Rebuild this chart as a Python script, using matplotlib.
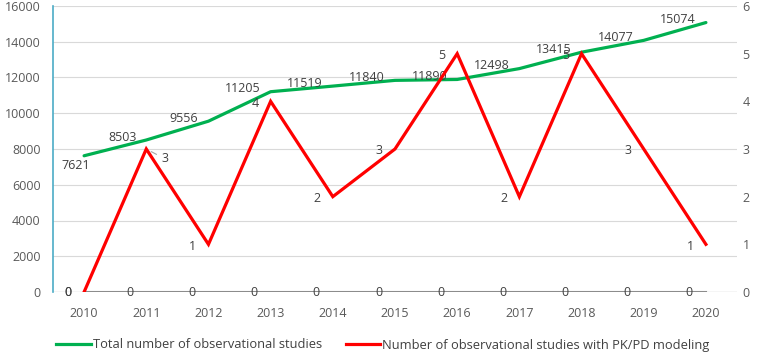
import matplotlib
matplotlib.use("Agg")
import matplotlib.pyplot as plt
from matplotlib.lines import Line2D

plt.rcParams['font.family'] = ['Open Sans', 'DejaVu Sans']

years = ['2010', '2011', '2012', '2013', '2014', '2015', '2016', '2017', '2018', '2019', '2020']
total_studies = [7621, 8503, 9556, 11205, 11519, 11840, 11890, 12498, 13415, 14077, 15074]
pkpd_studies = [0, 3, 1, 4, 2, 3, 5, 2, 5, 3, 1]
zero_series = [0, 0, 0, 0, 0, 0, 0, 0, 0, 0, 0]

GREEN = '#00b050'
RED = '#ff0000'
TXT = '#404040'
TICK = '#595959'

fig = plt.figure(figsize=(7.61, 3.54), dpi=100)
ax = fig.add_axes([53 / 761, 1 - 292 / 354, (737 - 53) / 761, (292 - 6) / 354])
ax2 = ax.twinx()

x = list(range(len(years)))

# left axis: total studies
ax.plot(x, total_studies, color=GREEN, lw=2.3, solid_capstyle='round', zorder=3)
ax.set_xlim(-0.5, len(years) - 0.5)
ax.set_ylim(0, 16000)
ax.set_yticks(range(0, 16001, 2000))
ax.set_xticks(x)
ax.set_xticklabels(years)
ax.grid(axis='y', color='#d9d9d9', lw=0.8)
ax.set_axisbelow(True)
ax.tick_params(axis='y', length=0, pad=9, labelsize=9, labelcolor=TICK)
ax.tick_params(axis='x', length=0, pad=11, labelsize=9, labelcolor=TICK)
for s in ['top', 'right', 'bottom']:
    ax.spines[s].set_visible(False)
ax.spines['left'].set_color('#4bacc6')
ax.spines['left'].set_linewidth(1.2)
ax.axhline(0, color='#d9d9d9', lw=1, zorder=1)

for i, v in enumerate(total_studies):
    if i == 0:
        off = (6, -10)
    else:
        off = (-10, 3)
    ax.annotate(str(v), (i, v), textcoords='offset pixels', xytext=off,
                ha='right', va='center', fontsize=9, color=TXT, zorder=5)

# right axis: PK/PD studies and zero baseline
ax2.plot(x, zero_series, color='#8c8c8c', lw=1.5, zorder=2)
ax2.plot(x, pkpd_studies, color=RED, lw=2.3, solid_joinstyle='miter', zorder=3)
ax2.set_ylim(0, 6)
ax2.set_yticks(range(0, 7))
ax2.tick_params(axis='y', length=0, pad=4, labelsize=9, labelcolor=TICK)
for s in ['top', 'right', 'bottom', 'left']:
    ax2.spines[s].set_visible(False)

for i, v in enumerate(pkpd_studies):
    if i == 1:
        ax2.annotate(str(v), (i, v), textcoords='offset pixels', xytext=(19, -10),
                     ha='center', va='center', fontsize=9, color=TXT,
                     arrowprops=dict(arrowstyle='-', color='#a6a6a6', lw=0.8,
                                     shrinkA=2, shrinkB=4))
    elif v == 0:
        ax2.annotate(str(v), (i, v), textcoords='offset pixels', xytext=(-13, 0),
                     ha='right', va='center', fontsize=9, color=TXT)
    else:
        ax2.annotate(str(v), (i, v), textcoords='offset pixels', xytext=(-12, -2),
                     ha='right', va='center', fontsize=9, color=TXT)

for i, v in enumerate(zero_series):
    ax2.annotate(str(v), (i, v), textcoords='offset pixels', xytext=(-13, 0),
                 ha='right', va='center', fontsize=9, color=TXT)

handles = [Line2D([], [], color=GREEN, lw=2.3), Line2D([], [], color=RED, lw=2.3)]
labels = ['Total number of observational studies',
          'Number of observational studies with PK/PD modeling']
fig.legend(handles, labels, loc='center', bbox_to_anchor=(383 / 761, 1 - 345 / 354),
           ncol=2, frameon=False, fontsize=9.3, handlelength=2.7, handletextpad=0.15,
           columnspacing=1.8, labelcolor=TXT, borderpad=0, borderaxespad=0)

fig.savefig('out.png', dpi=100)
